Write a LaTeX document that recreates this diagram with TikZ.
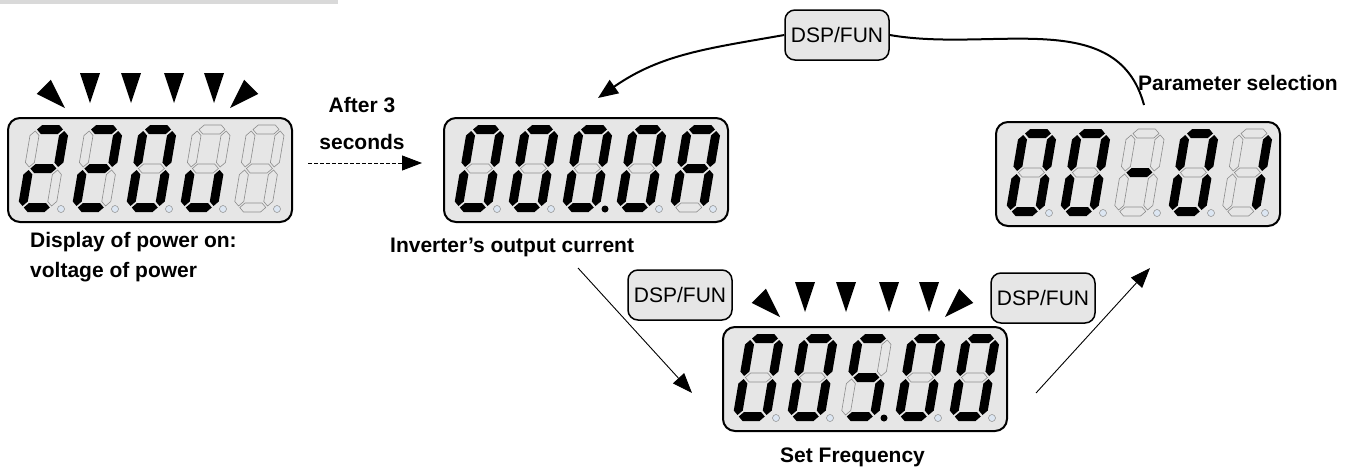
\documentclass[tikz,border=0pt]{standalone}
\usepackage{fontspec}
\setmainfont{Liberation Sans}
\usetikzlibrary{arrows.meta,positioning,calc}
\definecolor{lcdgray}{HTML}{E6E6E6}
\definecolor{segline}{HTML}{8C8C8C}
\definecolor{dotoff}{HTML}{DCE6F2}
\definecolor{bargray}{HTML}{D9D9D9}

\tikzset{
  seg1/.style={fill=black},
  seg0/.style={fill=lcdgray, draw=segline, line width=0.6pt},
  dot0/.style={fill=dotoff, draw=segline, line width=0.5pt},
  lcdbox/.style={draw, line width=2pt, fill=lcdgray, rounded corners=12pt,
    minimum width=284pt, minimum height=104pt, inner sep=0pt},
  keybox/.style={draw, line width=1.5pt, fill=lcdgray, rounded corners=10pt,
    minimum width=104pt, minimum height=50pt, inner sep=0pt,
    font=\fontsize{21}{25}\selectfont},
  lbl/.style={font=\fontsize{21}{25}\selectfont\bfseries, inner sep=0pt},
  flow/.style={line width=0.9pt, -{Triangle[length=20pt,width=15pt]}},
  cycleline/.style={line width=2pt},
}

% one segment, horizontal or vertical: style, centre line, from, to
\newcommand{\hseg}[4]{\path[seg#1] (#3,#2) -- (#3+4.5,#2+4.5) -- (#4-4.5,#2+4.5)
  -- (#4,#2) -- (#4-4.5,#2-4.5) -- (#3+4.5,#2-4.5) -- cycle;}
\newcommand{\vseg}[4]{\path[seg#1] (#2,#3) -- (#2+4.5,#3+4.5) -- (#2+4.5,#4-4.5)
  -- (#2,#4) -- (#2-4.5,#4-4.5) -- (#2-4.5,#3+4.5) -- cycle;}
% segments a b c d e f g
\newcommand{\segs}[7]{%
  \hseg{#1}{82.5}{6}{32}\vseg{#2}{33.5}{45}{81}\vseg{#3}{33.5}{6}{42}%
  \hseg{#4}{4.5}{6}{32}\vseg{#5}{4.5}{6}{42}\vseg{#6}{4.5}{45}{81}%
  \hseg{#7}{43.5}{6}{32}}
\expandafter\def\csname lcd:0\endcsname{1111110}
\expandafter\def\csname lcd:1\endcsname{0110000}
\expandafter\def\csname lcd:2\endcsname{1101101}
\expandafter\def\csname lcd:5\endcsname{1011011}
\expandafter\def\csname lcd:u\endcsname{0011100}
\expandafter\def\csname lcd:A\endcsname{1110111}
\expandafter\def\csname lcd:-\endcsname{0000001}
\expandafter\def\csname lcd:x\endcsname{0000000}

% display: name, north west corner, five digits, lit dot
\newcommand{\lcd}[4]{%
  \node[lcdbox, anchor=north west] (#1) at #2 {};
  \foreach \ch [count=\k from 0] in {#3} {
    \edef\pat{\csname lcd:\ch\endcsname}
    \begin{scope}[shift={($(#1.north west)+(10+54*\k,-95)$)}, xslant=0.17]
      \expandafter\segs\pat
    \end{scope}
    \ifnum\k=#4
      \fill ($(#1.north west)+(54+54*\k,-92)$) circle (3.5pt);
    \else
      \path[dot0] ($(#1.north west)+(54+54*\k,-92)$) circle (3.5pt);
    \fi
  }
}
% blinking marks above a display
\newcommand{\blink}[1]{%
  \foreach \dx/\dy/\rot in {58/9/45, 83/14/0, 124/14/0, 167/14/0, 207/14/0, 223/9/-45}
    \fill[shift={($(#1.north west)+(\dx,\dy)$)}, rotate=\rot]
      (0,0) -- (-10,30) -- (10,30) -- cycle;
}

\begin{document}
\begin{tikzpicture}[x=1pt, y=1pt]
\useasboundingbox (0,0) rectangle (1358,-469);
\fill[bargray] (0,0) rectangle (338,-4);

% displays
\lcd{pwr}{(7,-117)}{2,2,0,u,x}{9}
\blink{pwr}
\lcd{cur}{(443,-117)}{0,0,0,0,A}{2}
\lcd{par}{(995,-121)}{0,0,-,0,1}{9}
\lcd{frq}{(722,-326)}{0,0,5,0,0}{2}
\blink{frq}

% keys
\node[keybox] (fn1) at (837,-35) {DSP/FUN};
\node[keybox] (fn2) at (680,-295) {DSP/FUN};
\node[keybox] (fn3) at (1043,-298) {DSP/FUN};

% labels
\node[lbl, anchor=base west] (pwrtxt1) at (30,-247) {Display of power on:};
\node[lbl, anchor=base west] (pwrtxt2) at (30,-277) {voltage of power};
\node[lbl, anchor=base] (wait1) at (362,-112) {After 3};
\node[lbl, anchor=base] (wait2) at (362,-149) {seconds};
\node[lbl, anchor=base west] (curtxt) at (390,-252) {Inverter’s output current};
\node[lbl, anchor=base west] (partxt) at (1138,-90) {Parameter selection};
\node[lbl, anchor=base west] (frqtxt) at (780,-462) {Set Frequency};

% connectors
\coordinate (waitfrom) at (308,-163);
\coordinate (waitto) at (422,-163);
\draw[flow, dash pattern=on 4pt off 2pt] (waitfrom) -- (waitto);
\draw[cycleline, -{Triangle[length=20pt,width=16pt]}] (fn1.west)
  to[out=190,in=35] ($(cur.north)+(12,19)$);
\draw[cycleline] (fn1.east) to[out=-10,in=105] ($(par.north)+(6,16)$);
\coordinate (downfrom) at (578,-268);
\coordinate (downto) at (692,-393);
\draw[flow] (downfrom) -- (downto);
\coordinate (upfrom) at (1036,-393);
\coordinate (upto) at (1150,-268);
\draw[flow] (upfrom) -- (upto);
\end{tikzpicture}
\end{document}
